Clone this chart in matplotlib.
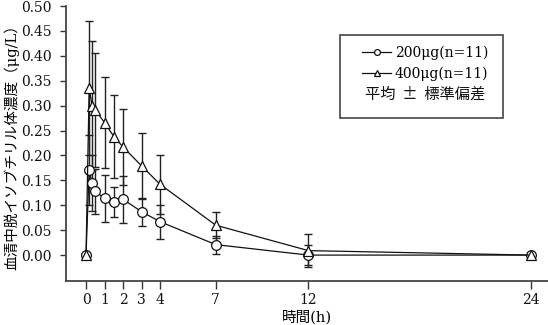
import matplotlib
matplotlib.use("Agg")
import matplotlib.pyplot as plt
from matplotlib.patches import Rectangle

plt.rcParams['font.family'] = ['DejaVu Serif', 'Noto Sans CJK JP', 'DejaVu Sans']

# ---- data ----
time_h = [0, 0.17, 0.33, 0.5, 1, 1.5, 2, 3, 4, 7, 12, 24]
mean_200 = [0, 0.171, 0.144, 0.128, 0.114, 0.107, 0.112, 0.087, 0.067, 0.021, 0.0, 0.0]
sd_200 = [0, 0.070, 0.056, 0.045, 0.047, 0.030, 0.047, 0.028, 0.034, 0.018, 0.020, 0.004]
mean_400 = [0, 0.335, 0.300, 0.291, 0.266, 0.238, 0.217, 0.179, 0.142, 0.060, 0.009, 0.0]
sd_400 = [0, 0.135, 0.130, 0.115, 0.091, 0.084, 0.076, 0.067, 0.059, 0.026, 0.033, 0.003]
label_200 = "200μg(n=11)"
label_400 = "400μg(n=11)"
note_text = "平均  ±  標準偏差"
x_ticks = [0, 1, 2, 3, 4, 7, 12, 24]
y_ticks = [0.00, 0.05, 0.10, 0.15, 0.20, 0.25, 0.30, 0.35, 0.40, 0.45, 0.50]
x_label = "時間(h)"
y_label = "血清中脱イソブチリル体濃度（μg/L）"

W, H = 548, 325
fig = plt.figure(figsize=(W / 100, H / 100), dpi=100)
ax = fig.add_axes([66 / W, 1 - 281 / H, 482 / W, 275 / H])

ink = '#111111'
for m, s, mk, lab in [(mean_200, sd_200, 'o', label_200), (mean_400, sd_400, '^', label_400)]:
    ax.errorbar(time_h, m, yerr=s, fmt='none', ecolor='#222222', elinewidth=1.0,
                capsize=3, capthick=1.0, zorder=2)
    ax.plot(time_h, m, color=ink, lw=0.9, marker=mk, ms=7, mfc='white', mec=ink,
            mew=0.9, label=lab, zorder=3)

ax.set_xlim(-1.08, 24.93)
ax.set_ylim(-0.052, 0.5)
ax.set_xticks(x_ticks)
ax.set_xticklabels([str(v) for v in x_ticks])
ax.set_yticks(y_ticks)
ax.set_yticklabels([f"{v:.2f}" for v in y_ticks])
ax.tick_params(axis='both', direction='out', colors='#333333', labelcolor='#111111',
               labelsize=10)
ax.tick_params(axis='x', length=6, width=1.0, pad=3)
ax.tick_params(axis='y', length=4, width=1.0, pad=6)
for sp in ['top', 'right']:
    ax.spines[sp].set_visible(False)
for sp in ['left', 'bottom']:
    ax.spines[sp].set_color('#444444')
    ax.spines[sp].set_linewidth(1.3)

ax.set_xlabel(x_label, fontsize=10.5)
ax.xaxis.set_label_coords(0.5, -0.105)
ax.set_ylabel(y_label, fontsize=10.5)
ax.yaxis.set_label_coords(-0.096, 0.5)

leg = ax.legend(loc='center left', bbox_to_anchor=(0.614, 0.7927), frameon=False,
                fontsize=10, borderpad=0, borderaxespad=0, handlelength=2.1,
                handletextpad=0.25, labelspacing=0.5, markerscale=0.6)
ax.text(0.620, 0.680, note_text, transform=ax.transAxes, ha='left', va='center',
        fontsize=11, color='#111111', family=['Noto Sans CJK JP', 'DejaVu Serif'])
ax.add_patch(Rectangle((0.568, 0.5927), 0.339, 0.3018, transform=ax.transAxes,
                       fill=False, edgecolor='#444444', lw=1.2, clip_on=False))

fig.savefig("out.png", dpi=100)
